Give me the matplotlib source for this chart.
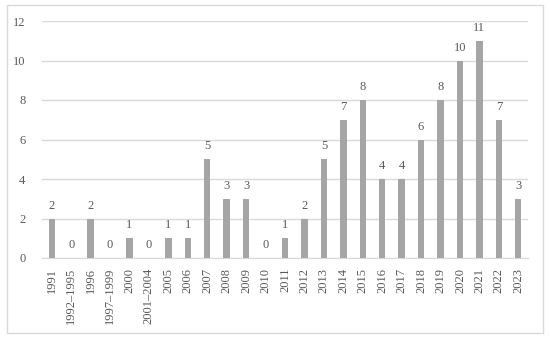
import matplotlib
matplotlib.use("Agg")
import matplotlib.pyplot as plt
from matplotlib.patches import Rectangle

categories = ["1991", "1992–1995", "1996", "1997–1999", "2000", "2001–2004", "2005", "2006",
              "2007", "2008", "2009", "2010", "2011", "2012", "2013", "2014", "2015", "2016",
              "2017", "2018", "2019", "2020", "2021", "2022", "2023"]
values = [2, 0, 2, 0, 1, 0, 1, 1, 5, 3, 3, 0, 1, 2, 5, 7, 8, 4, 4, 6, 8, 10, 11, 7, 3]
yticks = [0, 2, 4, 6, 8, 10, 12]

plt.rcParams['font.family'] = ['Liberation Serif', 'DejaVu Serif']
txt = '#595959'

fig = plt.figure(figsize=(5.5, 3.39), dpi=100)
fig.patches.append(Rectangle((7/550, 1-333/339), 536/550, 328/339, transform=fig.transFigure,
                             fill=False, edgecolor='#d9d9d9', linewidth=1))
ax = fig.add_axes([42/550, 1-258/339, 486/550, 237/339])
x = range(len(categories))
bars = ax.bar(x, values, width=0.33, color='#a5a5a5', zorder=3)
ax.set_xlim(-0.5, len(categories) - 0.5)
ax.set_ylim(0, 12)
ax.set_yticks(yticks)
ax.grid(axis='y', color='#d9d9d9', linewidth=1, zorder=0)
for s in ['top', 'right', 'left']:
    ax.spines[s].set_visible(False)
ax.spines['bottom'].set_color('#d9d9d9')
ax.set_xticks(list(x))
ax.set_xticklabels(categories, rotation=90)
ax.tick_params(axis='both', length=0, labelsize=9, colors=txt)
ax.tick_params(axis='x', pad=7)
ax.tick_params(axis='y', pad=12)
for xi, v in zip(x, values):
    ax.annotate(str(v), (xi, v), xytext=(0, 5), textcoords='offset points',
                ha='center', va='bottom', fontsize=9, color=txt)
fig.savefig("out.png", dpi=100)
